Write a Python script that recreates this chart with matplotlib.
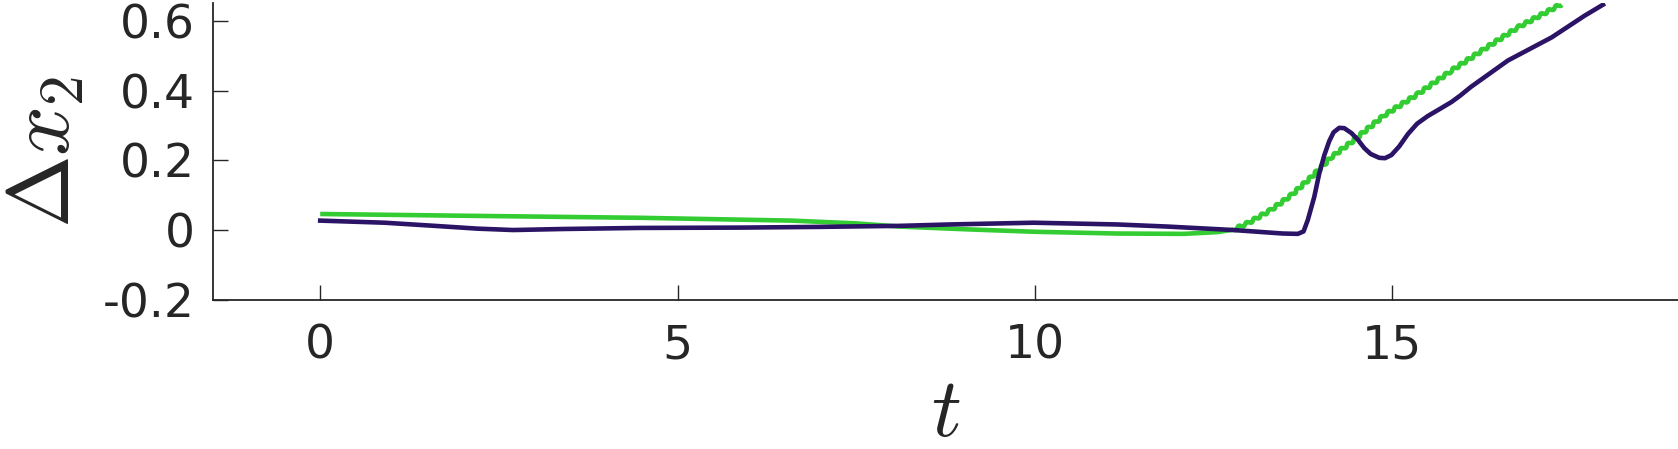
import numpy as np
import matplotlib
matplotlib.use("Agg")
import matplotlib.pyplot as plt

# --- data ---
# green curve (smooth part then the wavy rising part)
green_t = [0.0, 2.0, 4.5, 6.6, 7.5, 8.1, 9.05, 10.0, 11.15, 12.08, 12.55, 12.78,
           13.0, 13.3, 13.59, 13.87, 14.15, 14.43, 14.89, 15.36, 15.83, 16.29,
           16.76, 17.37]
green_y = [0.046, 0.041, 0.035, 0.027, 0.019, 0.01, 0.002, -0.005, -0.01, -0.011,
           -0.006, 0.001, 0.022, 0.057, 0.1, 0.152, 0.209, 0.252, 0.329, 0.39,
           0.457, 0.519, 0.581, 0.648]
green_wavy_from = 11  # index where the wiggly part starts

# purple curve
purple_t = [0.0, 0.9, 1.6, 2.2, 2.7, 3.4, 4.46, 5.9, 6.97, 8.12, 8.81, 9.98,
            11.15, 11.85, 12.78, 13.47, 13.68, 13.76, 13.82, 13.91, 13.98, 14.05,
            14.12, 14.18, 14.26, 14.33, 14.43, 14.52, 14.61, 14.7, 14.82, 14.9,
            14.99, 15.1, 15.22, 15.35, 15.5, 15.65, 15.83, 15.95, 16.1, 16.62,
            17.23, 17.69, 17.95]
purple_y = [0.027, 0.021, 0.012, 0.004, 0.0, 0.003, 0.006, 0.007, 0.009, 0.012,
            0.016, 0.021, 0.016, 0.01, 0.0, -0.01, -0.011, -0.004, 0.029, 0.095,
            0.162, 0.214, 0.255, 0.28, 0.293, 0.292, 0.278, 0.259, 0.235, 0.218,
            0.207, 0.206, 0.215, 0.24, 0.275, 0.305, 0.327, 0.345, 0.367, 0.385,
            0.41, 0.486, 0.552, 0.614, 0.646]

xticks = [0, 5, 10, 15]
xtick_labels = ['0', '5', '10', '15']
yticks = [-0.2, 0, 0.2, 0.4, 0.6]
ytick_labels = ['-0.2', '0', '0.2', '0.4', '0.6']

plt.rcParams['mathtext.fontset'] = 'cm'
axis_color = '#262626'
green = '#33cc33'
purple = '#2b1466'

fig = plt.figure(figsize=(16.78, 4.49), dpi=100)
ax = fig.add_axes([213 / 1678, 1 - 299.8 / 449, 1465 / 1678, 296.5 / 449])

ax.plot(green_t[:green_wavy_from + 1], green_y[:green_wavy_from + 1], color=green, lw=3.3,
        solid_capstyle='butt')
wavy, = ax.plot(green_t[green_wavy_from:], green_y[green_wavy_from:], color=green, lw=3.3,
                solid_capstyle='butt')
wavy.set_sketch_params(scale=1.4, length=8.5, randomness=1.0)
ax.plot(purple_t, purple_y, color=purple, lw=3.3, solid_joinstyle='round')

ax.set_xlim(-1.5, 19.0)
ax.set_ylim(-0.2, 0.65)

ax.set_xticks(xticks)
ax.set_xticklabels(xtick_labels)
ax.set_yticks(yticks)
ax.set_yticklabels(ytick_labels)

ax.spines['top'].set_visible(False)
ax.spines['right'].set_visible(False)
for s in ['left', 'bottom']:
    ax.spines[s].set_color(axis_color)
    ax.spines[s].set_linewidth(1.3)

ax.tick_params(axis='both', direction='in', length=10.5, width=1.0, color=axis_color,
               labelcolor=axis_color, labelsize=34)
ax.tick_params(axis='x', pad=17)
ax.tick_params(axis='y', pad=13)

ax.set_xlabel(r'$t$', fontsize=60, color=axis_color)
ax.set_ylabel(r'$\Delta x_2$', fontsize=63, color=axis_color)
ax.xaxis.set_label_coords(0.5, -0.245)
ax.yaxis.set_label_coords(-0.086, 0.5)

fig.savefig('out.png', dpi=100)
